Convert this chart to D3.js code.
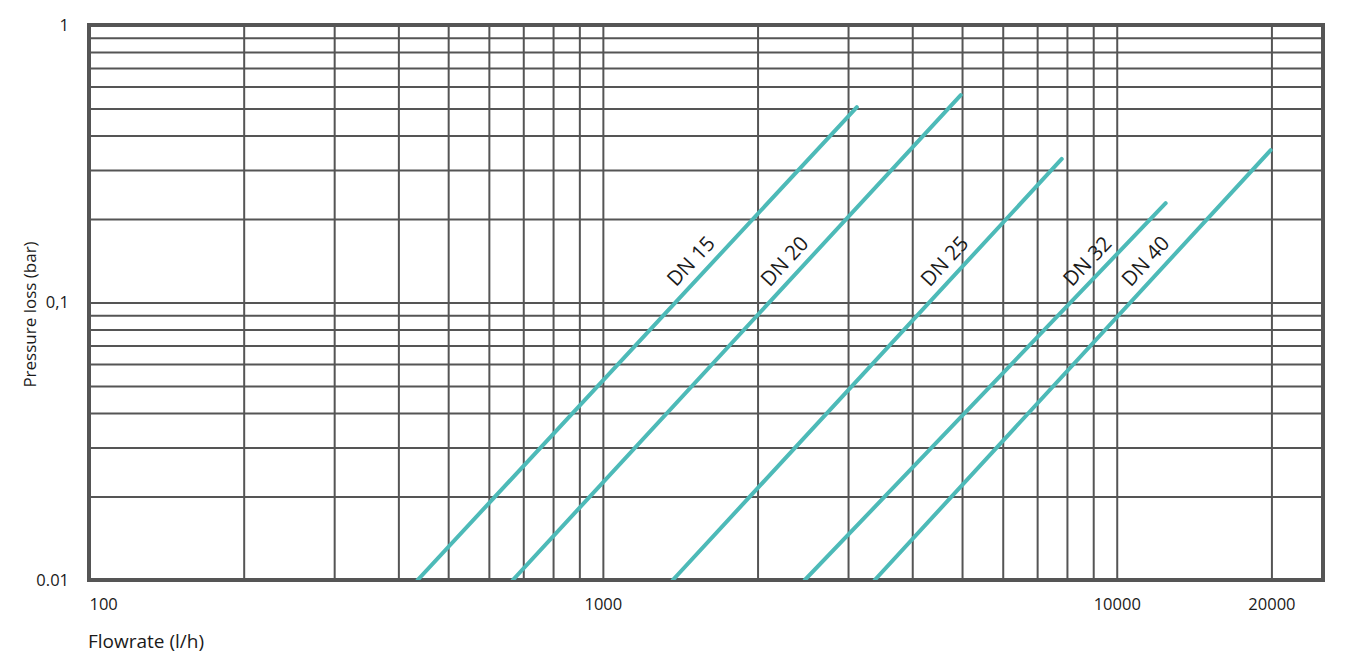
<!DOCTYPE html>
<html>
<head>
<meta charset="utf-8">
<style>
  body { margin: 0; background: #fff; }
  text { font-family: "Open Sans", "Noto Sans", sans-serif; fill: #1a1a1a; }
</style>
</head>
<body>
<svg id="chart" width="1350" height="663"></svg>
<script src="https://cdn.jsdelivr.net/npm/d3@7"></script>
<script>
// curves: start at 0.01 bar, end point per size
const sizes = ["DN 15", "DN 20", "DN 25", "DN 32", "DN 40"];
const flowStart = [436, 668, 1368, 2472, 3381];
const flowEnd = [3121, 4971, 7816, 12452, 19934];
const lossStart = [0.01, 0.01, 0.01, 0.01, 0.01];
const lossEnd = [0.506, 0.559, 0.329, 0.228, 0.354];

const xGrid = [200, 300, 400, 500, 600, 700, 800, 900, 1000,
               2000, 3000, 4000, 5000, 6000, 7000, 8000, 9000, 10000, 20000];
const yGrid = [0.02, 0.03, 0.04, 0.05, 0.06, 0.07, 0.08, 0.09, 0.1,
               0.2, 0.3, 0.4, 0.5, 0.6, 0.7, 0.8, 0.9];
const xTicks = [100, 1000, 10000, 20000];
const xTickText = ["100", "1000", "10000", "20000"];
const yTicks = [0.01, 0.1, 1];
const yTickText = ["0.01", "0,1", "1"];
const labelLoss = 0.141;   // height at which the DN labels sit

const plotL = 89, plotR = 1323, plotT = 25, plotB = 580;
const gridColor = "#555555", lineColor = "#4dbab8";

const svg = d3.select("#chart");

const x = d3.scaleLog().domain([100, 25200]).range([plotL, plotR]);
const y = d3.scaleLog().domain([0.01, 1]).range([plotB, plotT]);

// grid
svg.append("g")
    .attr("transform", `translate(0,${plotB})`)
    .call(d3.axisBottom(x).tickValues(xGrid).tickSize(-(plotB - plotT)).tickFormat(""))
    .call(g => g.select(".domain").remove())
    .call(g => g.selectAll("line").attr("stroke", gridColor).attr("stroke-width", 2));

svg.append("g")
    .attr("transform", `translate(${plotL},0)`)
    .call(d3.axisLeft(y).tickValues(yGrid).tickSize(-(plotR - plotL)).tickFormat(""))
    .call(g => g.select(".domain").remove())
    .call(g => g.selectAll("line").attr("stroke", gridColor).attr("stroke-width", 2));

// frame
svg.append("rect")
    .attr("x", plotL).attr("y", plotT)
    .attr("width", plotR - plotL).attr("height", plotB - plotT)
    .attr("fill", "none")
    .attr("stroke", gridColor)
    .attr("stroke-width", 4);

// tick labels
svg.append("g")
    .attr("transform", `translate(0,${plotB})`)
    .call(d3.axisBottom(x).tickValues(xTicks).tickSize(0).tickPadding(18)
        .tickFormat((d, i) => xTickText[i]))
    .call(g => g.select(".domain").remove())
    .call(g => g.selectAll("text")
        .attr("font-size", 16.5)
        .attr("font-family", "'Open Sans', sans-serif")
        .attr("fill", "#1a1a1a")
        .attr("text-anchor", (d, i) => i === 0 ? "start" : "middle"));

svg.append("g")
    .attr("transform", `translate(${plotL},0)`)
    .call(d3.axisLeft(y).tickValues(yTicks).tickSize(0).tickPadding(20)
        .tickFormat((d, i) => yTickText[i]))
    .call(g => g.select(".domain").remove())
    .call(g => g.selectAll("text")
        .attr("font-size", 16.5)
        .attr("font-family", "'Open Sans', sans-serif")
        .attr("fill", "#1a1a1a"));

// axis titles
svg.append("text")
    .attr("x", plotL - 1).attr("y", 648)
    .attr("font-size", 19)
    .text("Flowrate (l/h)");

svg.append("text")
    .attr("transform", `translate(36,${(plotT + plotB) / 2 + 12}) rotate(-90)`)
    .attr("text-anchor", "middle")
    .attr("font-size", 17)
    .text("Pressure loss (bar)");

// curves
const curves = sizes.map((name, i) => ({
  name,
  pts: [[flowStart[i], lossStart[i]], [flowEnd[i], lossEnd[i]]]
}));

svg.append("clipPath").attr("id", "plot")
  .append("rect").attr("x", plotL).attr("y", plotT)
  .attr("width", plotR - plotL).attr("height", plotB - plotT);

const line = d3.line().x(d => x(d[0])).y(d => y(d[1]));

svg.append("g")
    .attr("clip-path", "url(#plot)")
  .selectAll("path")
  .data(curves)
  .join("path")
    .attr("d", d => line(d.pts))
    .attr("fill", "none")
    .attr("stroke", lineColor)
    .attr("stroke-width", 4)
    .attr("stroke-linecap", "round");

// labels along each curve, shifted to its upper-left side
svg.append("g")
  .selectAll("text")
  .data(curves)
  .join("text")
    .attr("transform", d => {
      const [a, b] = d.pts;
      const x0 = x(a[0]), y0 = y(a[1]), x1 = x(b[0]), y1 = y(b[1]);
      const ty = y(labelLoss);
      const tx = x0 + (x1 - x0) * (ty - y0) / (y1 - y0);
      const ang = Math.atan2(y1 - y0, x1 - x0) * 180 / Math.PI;
      return `translate(${tx - 23},${ty}) rotate(${ang})`;
    })
    .attr("text-anchor", "middle")
    .attr("dy", "0.35em")
    .attr("font-size", 20.5)
    .text(d => d.name);
</script>
</body>
</html>
